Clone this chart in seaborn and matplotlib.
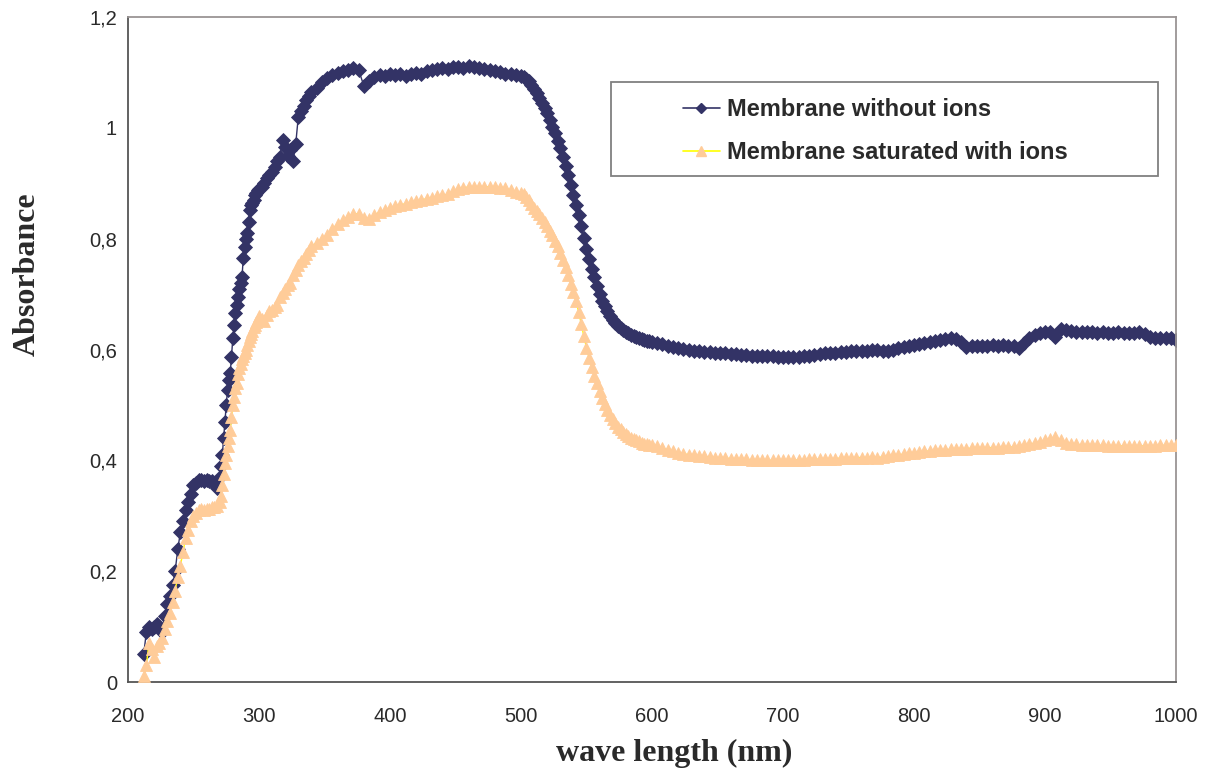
import numpy as np
import pandas as pd
import matplotlib
matplotlib.use("Agg")
import matplotlib.pyplot as plt
from matplotlib.ticker import FuncFormatter, FixedLocator
from matplotlib.patches import Rectangle
from matplotlib.lines import Line2D
import seaborn as sns

# Wavelength grid (nm): finer sampling where the spectra change quickly
wavelength = np.concatenate([
    np.arange(212, 271, 2),   # 30 points
    np.arange(271, 301, 1),   # 30 points
    np.arange(302, 341, 2),   # 20 points
    np.arange(344, 501, 4),   # 40 points
    np.arange(502, 601, 2),   # 50 points
    np.arange(604, 1001, 4),  # 100 points
])

# Absorbance of the membrane without ions
absorbance_without = [
    # 212-270
    0.05, 0.09, 0.10, 0.095, 0.10, 0.105, 0.10, 0.09, 0.12, 0.14,
    0.155, 0.175, 0.20, 0.24, 0.27, 0.29, 0.31, 0.325, 0.34, 0.355,
    0.36, 0.365, 0.365, 0.362, 0.365, 0.363, 0.362, 0.36, 0.35, 0.37,
    # 271-300
    0.39, 0.41, 0.44, 0.47, 0.50, 0.527, 0.545, 0.557, 0.587, 0.62,
    0.645, 0.666, 0.68, 0.695, 0.71, 0.72, 0.73, 0.765, 0.785, 0.80,
    0.81, 0.83, 0.852, 0.86, 0.865, 0.87, 0.878, 0.883, 0.888, 0.89,
    # 302-340
    0.893, 0.90, 0.91, 0.915, 0.92, 0.93, 0.94, 0.948, 0.978, 0.966,
    0.95, 0.96, 0.94, 0.97, 1.02, 1.03, 1.04, 1.05, 1.058, 1.065,
    # 344-500
    1.072, 1.082, 1.09, 1.095, 1.099, 1.102, 1.105, 1.108, 1.105, 1.076,
    1.085, 1.092, 1.096, 1.094, 1.097, 1.095, 1.097, 1.094, 1.098, 1.099,
    1.097, 1.102, 1.104, 1.106, 1.108, 1.106, 1.109, 1.11, 1.108, 1.111,
    1.109, 1.108, 1.106, 1.104, 1.102, 1.101, 1.098, 1.097, 1.096, 1.094,
    # 502-600
    1.092, 1.089, 1.084, 1.078, 1.070, 1.062, 1.053, 1.044, 1.035, 1.026,
    1.014, 1.002, 0.99, 0.977, 0.963, 0.948, 0.932, 0.915, 0.897, 0.879,
    0.861, 0.842, 0.822, 0.802, 0.782, 0.763, 0.746, 0.73, 0.714, 0.70,
    0.688, 0.678, 0.669, 0.661, 0.654, 0.648, 0.643, 0.639, 0.635, 0.632,
    0.629, 0.627, 0.625, 0.623, 0.621, 0.619, 0.618, 0.616, 0.615, 0.614,
    # 604-1000
    0.612, 0.610, 0.607, 0.605, 0.603, 0.601, 0.600, 0.598, 0.597, 0.596,
    0.595, 0.594, 0.593, 0.593, 0.592, 0.591, 0.590, 0.590, 0.589, 0.589,
    0.588, 0.588, 0.588, 0.587, 0.587, 0.587, 0.587, 0.587, 0.588, 0.589,
    0.590, 0.591, 0.593, 0.594, 0.594, 0.595, 0.596, 0.597, 0.597, 0.598,
    0.598, 0.599, 0.599, 0.598, 0.597, 0.600, 0.603, 0.605, 0.607, 0.609,
    0.610, 0.612, 0.613, 0.615, 0.617, 0.619, 0.621, 0.619, 0.614, 0.605,
    0.607, 0.606, 0.607, 0.606, 0.608, 0.607, 0.608, 0.607, 0.606, 0.602,
    0.612, 0.621, 0.626, 0.629, 0.631, 0.632, 0.623, 0.637, 0.635, 0.633,
    0.632, 0.632, 0.631, 0.631, 0.630, 0.631, 0.630, 0.630, 0.631, 0.630,
    0.630, 0.630, 0.631, 0.628, 0.622, 0.621, 0.620, 0.621, 0.620, 0.618,
]

# Absorbance of the membrane saturated with ions
absorbance_saturated = [
    # 212-270
    0.01, 0.03, 0.07, 0.06, 0.045, 0.065, 0.07, 0.08, 0.095, 0.11,
    0.125, 0.145, 0.165, 0.19, 0.21, 0.235, 0.26, 0.275, 0.29, 0.30,
    0.305, 0.31, 0.312, 0.31, 0.313, 0.312, 0.315, 0.315, 0.318, 0.325,
    # 271-300
    0.335, 0.355, 0.375, 0.395, 0.41, 0.425, 0.44, 0.455, 0.478, 0.50,
    0.515, 0.53, 0.54, 0.555, 0.567, 0.574, 0.582, 0.588, 0.594, 0.60,
    0.608, 0.616, 0.623, 0.628, 0.634, 0.64, 0.645, 0.65, 0.655, 0.66,
    # 302-340
    0.655, 0.652, 0.662, 0.67, 0.672, 0.676, 0.68, 0.695, 0.702, 0.71,
    0.716, 0.72, 0.735, 0.744, 0.752, 0.76, 0.766, 0.772, 0.779, 0.786,
    # 344-500
    0.793, 0.80, 0.807, 0.818, 0.826, 0.834, 0.84, 0.844, 0.845, 0.838,
    0.836, 0.843, 0.848, 0.852, 0.856, 0.859, 0.861, 0.863, 0.866, 0.868,
    0.87, 0.872, 0.874, 0.877, 0.878, 0.88, 0.886, 0.89, 0.892, 0.893,
    0.893, 0.894, 0.894, 0.893, 0.893, 0.892, 0.891, 0.888, 0.885, 0.882,
    # 502-600
    0.88, 0.876, 0.869, 0.862, 0.856, 0.85, 0.844, 0.838, 0.83, 0.822,
    0.814, 0.806, 0.796, 0.786, 0.774, 0.761, 0.748, 0.734, 0.719, 0.704,
    0.687, 0.668, 0.646, 0.624, 0.603, 0.585, 0.569, 0.553, 0.539, 0.526,
    0.513, 0.501, 0.491, 0.482, 0.474, 0.467, 0.461, 0.456, 0.451, 0.447,
    0.444, 0.441, 0.438, 0.436, 0.434, 0.432, 0.43, 0.429, 0.428, 0.427,
    # 604-1000
    0.425, 0.422, 0.419, 0.416, 0.414, 0.412, 0.410, 0.409, 0.408, 0.407,
    0.406, 0.405, 0.404, 0.404, 0.403, 0.403, 0.402, 0.402, 0.401, 0.401,
    0.401, 0.400, 0.400, 0.400, 0.400, 0.400, 0.400, 0.401, 0.401, 0.402,
    0.402, 0.402, 0.403, 0.403, 0.403, 0.404, 0.404, 0.404, 0.405, 0.405,
    0.405, 0.406, 0.405, 0.406, 0.408, 0.409, 0.410, 0.411, 0.413, 0.414,
    0.415, 0.416, 0.417, 0.418, 0.419, 0.419, 0.420, 0.420, 0.421, 0.421,
    0.422, 0.422, 0.422, 0.423, 0.423, 0.423, 0.424, 0.424, 0.424, 0.425,
    0.427, 0.429, 0.431, 0.433, 0.436, 0.439, 0.442, 0.436, 0.432, 0.430,
    0.429, 0.428, 0.428, 0.427, 0.427, 0.427, 0.426, 0.426, 0.426, 0.426,
    0.426, 0.426, 0.426, 0.426, 0.426, 0.426, 0.427, 0.427, 0.427, 0.428,
]

series_labels = ["Membrane without ions", "Membrane saturated with ions"]
x_ticks = [200, 300, 400, 500, 600, 700, 800, 900, 1000]
y_ticks = [0, 0.2, 0.4, 0.6, 0.8, 1.0, 1.2]

assert len(wavelength) == len(absorbance_without) == len(absorbance_saturated)

NAVY = "#333366"
PEACH = "#FFCC99"
YELLOW = "#FFFF00"
TEXT = "#2a2a2a"

df = pd.DataFrame({
    "wavelength": wavelength,
    "without": absorbance_without,
    "saturated": absorbance_saturated,
})

sns.set_style("white")
plt.rcParams["font.family"] = ["Liberation Sans", "DejaVu Sans"]

fig = plt.figure(figsize=(12.13, 7.74), dpi=100)
ax = fig.add_axes([0.10552, 0.11886, 0.86397, 0.85917])

sns.lineplot(data=df, x="wavelength", y="without", ax=ax, sort=False,
             estimator=None, legend=False, color=NAVY, linewidth=1.0,
             marker="D", markersize=7.2, markerfacecolor=NAVY,
             markeredgecolor=NAVY, markeredgewidth=0.6, zorder=2)
sns.lineplot(data=df, x="wavelength", y="saturated", ax=ax, sort=False,
             estimator=None, legend=False, color=YELLOW, linewidth=1.0,
             marker="^", markersize=9, markerfacecolor=PEACH,
             markeredgecolor=PEACH, markeredgewidth=0.6, zorder=3)

ax.set_xlim(200, 1000)
ax.set_ylim(0, 1.2)
ax.xaxis.set_major_locator(FixedLocator(x_ticks))
ax.yaxis.set_major_locator(FixedLocator(y_ticks))
ax.yaxis.set_major_formatter(FuncFormatter(lambda v, _: f"{v:g}".replace(".", ",")))

for side in ("left", "bottom"):
    ax.spines[side].set_color("#555555")
    ax.spines[side].set_linewidth(1.3)
for side in ("top", "right"):
    ax.spines[side].set_color("#9a9494")
    ax.spines[side].set_linewidth(1.3)

ax.tick_params(axis="both", direction="out", length=5, width=1.1,
               color="#555555", labelsize=14.5, labelcolor=TEXT)
ax.tick_params(axis="x", pad=13)
ax.tick_params(axis="y", pad=3)

label_font = dict(family=["Liberation Serif", "DejaVu Serif"], weight="bold",
                  size=23, color=TEXT)
ax.set_xlabel("wave length (nm)", va="center", ha="center", **label_font)
ax.set_ylabel("Absorbance", va="center", ha="center", **label_font)
ax.xaxis.set_label_coords((674 - 128) / 1048, (682 - 753) / 665)
ax.yaxis.set_label_coords((27 - 128) / 1048, (682 - 274) / 665)

# Legend box
ax.add_patch(Rectangle(((611 - 128) / 1048, (682 - 176) / 665),
                       (1158 - 611) / 1048, (176 - 82) / 665,
                       transform=ax.transAxes, facecolor="white",
                       edgecolor="#808080", linewidth=1.3, zorder=4))
handles = [
    Line2D([], [], color=NAVY, linewidth=1.2, marker="D", markersize=5,
           markerfacecolor=NAVY, markeredgecolor=NAVY),
    Line2D([], [], color=YELLOW, linewidth=1.2, marker="^", markersize=7.5,
           markerfacecolor=PEACH, markeredgecolor=PEACH),
]
leg = ax.legend(handles, series_labels, loc="center left",
                bbox_to_anchor=((683 - 128) / 1048, (682 - 131) / 665),
                frameon=False, borderpad=0, borderaxespad=0,
                handlelength=1.55, handletextpad=0.3, labelspacing=0.85,
                numpoints=1, prop=dict(family="Liberation Sans",
                                       weight="bold", size=17))
leg.set_zorder(5)
for t in leg.get_texts():
    t.set_color(TEXT)

fig.savefig("out.png", dpi=100)
